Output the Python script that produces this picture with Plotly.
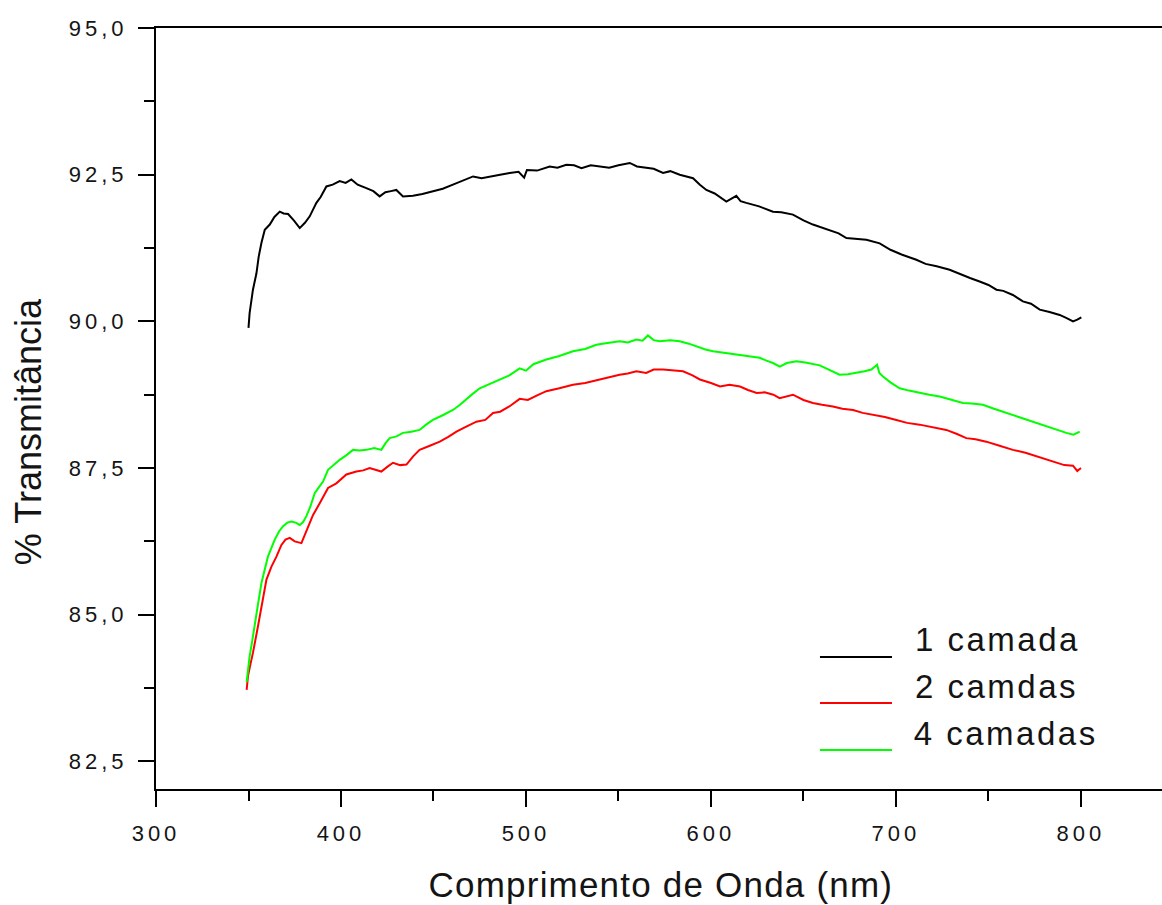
import plotly.graph_objects as go

# Wavelength (nm) and % transmittance for each film
wl_1 = [350.0, 350.6, 352.4, 354.3, 355.5, 357.0, 358.8, 361.5, 364.0, 366.9, 369.0, 371.4,
        374.5, 377.7, 380.5, 383.1, 386.7, 389.0, 392.1, 395.5, 399.3, 402.5, 405.6, 409.0,
        413.7, 417.5, 420.9, 424.0, 427.0, 429.9, 433.5, 438.9, 444.0, 449.7, 455.0, 460.5,
        466.0, 471.4, 476.0, 480.4, 486.0, 491.2, 496.0, 499.0, 500.5, 506.0, 512.8, 517.0,
        521.8, 526.0, 530.0, 535.0, 540.0, 545.0, 550.0, 556.1, 560.0, 565.1, 569.0, 574.1,
        578.0, 583.1, 587.0, 590.3, 594.0, 597.5, 602.0, 608.3, 613.7, 616.0, 619.1, 626.0,
        633.5, 638.0, 644.3, 650.0, 655.1, 660.0, 665.9, 669.0, 673.2, 678.0, 684.0, 691.2,
        697.0, 703.0, 711.0, 716.0, 722.0, 729.0, 735.0, 740.0, 745.2, 750.0, 754.3, 758.0,
        763.2, 768.6, 773.0, 777.7, 783.0, 788.5, 792.0, 795.7, 798.0, 800.2]
t_1 = [89.89, 90.14, 90.54, 90.82, 91.10, 91.34, 91.56, 91.65, 91.78, 91.87, 91.84, 91.83,
       91.72, 91.59, 91.68, 91.79, 92.02, 92.12, 92.30, 92.33, 92.39, 92.36, 92.42, 92.33,
       92.27, 92.22, 92.13, 92.20, 92.22, 92.24, 92.13, 92.14, 92.17, 92.22, 92.26, 92.33,
       92.40, 92.47, 92.44, 92.47, 92.50, 92.53, 92.55, 92.45, 92.58, 92.57, 92.64, 92.62,
       92.67, 92.66, 92.61, 92.66, 92.64, 92.62, 92.66, 92.70, 92.64, 92.61, 92.60, 92.53,
       92.56, 92.50, 92.47, 92.44, 92.33, 92.24, 92.18, 92.04, 92.14, 92.05, 92.02, 91.96,
       91.87, 91.86, 91.82, 91.72, 91.65, 91.60, 91.53, 91.50, 91.42, 91.41, 91.39, 91.33,
       91.22, 91.14, 91.05, 90.98, 90.94, 90.88, 90.80, 90.74, 90.68, 90.62, 90.54, 90.52,
       90.45, 90.34, 90.30, 90.20, 90.16, 90.11, 90.06, 90.00, 90.03, 90.07]

wl_2 = [349.0, 349.7, 351.0, 352.4, 355.1, 357.8, 359.7, 362.4, 365.1, 367.8, 370.0, 372.3,
        375.0, 378.6, 381.3, 384.9, 388.5, 393.0, 397.5, 402.9, 408.3, 412.0, 415.5, 418.5,
        421.8, 425.0, 428.1, 432.0, 435.4, 439.0, 442.5, 448.0, 453.4, 458.0, 462.4, 468.0,
        473.2, 478.0, 482.2, 486.0, 491.0, 496.6, 501.0, 506.0, 511.0, 518.0, 525.4, 532.0,
        539.8, 545.0, 550.6, 555.0, 559.7, 565.0, 569.0, 574.1, 580.0, 584.9, 590.0, 594.0,
        600.0, 604.9, 610.0, 615.7, 620.0, 624.7, 629.0, 633.7, 637.1, 644.3, 650.0, 655.1,
        660.0, 665.9, 671.0, 676.8, 682.0, 687.6, 694.0, 700.2, 706.0, 712.8, 720.0, 727.2,
        733.0, 738.0, 743.0, 748.8, 756.0, 763.2, 770.0, 775.9, 781.0, 786.7, 791.0, 795.7,
        798.0, 800.0]
t_2 = [83.72, 83.95, 84.15, 84.35, 84.80, 85.31, 85.60, 85.82, 85.99, 86.19, 86.28, 86.31,
       86.25, 86.22, 86.42, 86.70, 86.90, 87.16, 87.24, 87.39, 87.44, 87.46, 87.50, 87.47,
       87.44, 87.52, 87.59, 87.55, 87.56, 87.70, 87.81, 87.88, 87.95, 88.03, 88.12, 88.21,
       88.29, 88.32, 88.44, 88.46, 88.55, 88.68, 88.66, 88.74, 88.81, 88.86, 88.92, 88.95,
       89.01, 89.04, 89.09, 89.11, 89.15, 89.12, 89.18, 89.18, 89.16, 89.15, 89.08, 89.01,
       88.95, 88.89, 88.92, 88.89, 88.83, 88.78, 88.79, 88.75, 88.69, 88.75, 88.66, 88.61,
       88.58, 88.55, 88.51, 88.49, 88.44, 88.41, 88.37, 88.32, 88.27, 88.24, 88.20, 88.15,
       88.08, 88.01, 87.99, 87.95, 87.88, 87.81, 87.76, 87.70, 87.64, 87.59, 87.55, 87.54,
       87.45, 87.50]

wl_4 = [349.0, 349.3, 350.6, 352.0, 353.4, 355.0, 357.0, 358.8, 360.5, 362.5, 364.2, 366.5,
        368.7, 371.0, 373.2, 375.5, 377.7, 379.5, 381.3, 383.5, 385.8, 388.0, 390.3, 393.0,
        396.0, 399.3, 403.0, 406.5, 410.0, 413.7, 418.0, 421.8, 424.0, 426.3, 430.0, 433.5,
        438.0, 442.5, 446.0, 449.7, 455.0, 460.5, 464.0, 467.8, 471.0, 475.0, 480.0, 485.8,
        491.0, 496.6, 500.0, 504.0, 511.0, 518.0, 525.4, 532.0, 538.0, 544.0, 550.6, 555.0,
        559.7, 563.0, 565.9, 569.0, 572.3, 578.0, 583.1, 588.0, 592.1, 597.0, 601.1, 608.0,
        615.5, 621.0, 626.3, 630.0, 633.5, 637.2, 641.0, 646.2, 651.0, 658.8, 664.0, 669.5,
        674.0, 678.6, 683.0, 686.7, 689.8, 691.0, 693.0, 697.0, 702.0, 707.0, 712.8, 718.0,
        723.6, 730.0, 736.2, 741.0, 747.0, 753.0, 759.7, 765.0, 770.5, 776.0, 781.3, 787.0,
        792.1, 796.0, 799.3]
t_4 = [83.85, 83.95, 84.29, 84.55, 84.80, 85.15, 85.54, 85.80, 85.99, 86.15, 86.28, 86.42,
       86.51, 86.57, 86.59, 86.57, 86.53, 86.58, 86.68, 86.85, 87.07, 87.17, 87.27, 87.47,
       87.55, 87.64, 87.72, 87.81, 87.80, 87.81, 87.84, 87.81, 87.92, 88.01, 88.04, 88.10,
       88.12, 88.15, 88.24, 88.32, 88.40, 88.49, 88.57, 88.68, 88.76, 88.86, 88.93, 89.01,
       89.08, 89.20, 89.16, 89.27, 89.35, 89.41, 89.49, 89.53, 89.60, 89.63, 89.66, 89.64,
       89.69, 89.67, 89.76, 89.68, 89.66, 89.68, 89.66, 89.62, 89.57, 89.52, 89.49, 89.46,
       89.43, 89.40, 89.38, 89.33, 89.29, 89.23, 89.29, 89.32, 89.30, 89.25, 89.17, 89.09,
       89.10, 89.12, 89.15, 89.18, 89.26, 89.12, 89.06, 88.96, 88.86, 88.82, 88.78, 88.75,
       88.72, 88.66, 88.61, 88.60, 88.58, 88.51, 88.44, 88.38, 88.32, 88.27, 88.21, 88.16,
       88.10, 88.07, 88.12]

series_names = ["1 camada", "2 camdas", "4 camadas"]
series_colors = ["#000000", "#ff0000", "#00ff00"]
series_x = [wl_1, wl_2, wl_4]
series_y = [t_1, t_2, t_4]

FONT = "Liberation Sans, Arial, sans-serif"
INK = "#141414"

fig = go.Figure()
for name, color, xs, ys in zip(series_names, series_colors, series_x, series_y):
    fig.add_trace(go.Scatter(x=xs, y=ys, mode="lines", name=name,
                             line=dict(color=color, width=2), showlegend=False))

axis_common = dict(
    showline=True, linecolor="#000000", linewidth=2,
    ticks="outside", ticklen=16, tickwidth=2, tickcolor="#000000",
    showgrid=False, zeroline=False,
    tickfont=dict(family=FONT, size=22, color=INK),
)

fig.update_xaxes(range=[300, 843.8], tick0=300, dtick=100, mirror=True,
                 minor=dict(ticks="outside", ticklen=10, tickwidth=2,
                            tickcolor="#000000", dtick=50, tick0=300, showgrid=False),
                 ticklabelstandoff=8,
                 **axis_common)
fig.update_yaxes(range=[82.03, 95.0], tick0=82.5, dtick=2.5, tickformat=".1f",
                 minor=dict(ticks="outside", ticklen=10, tickwidth=2,
                            tickcolor="#000000", dtick=1.25, tick0=82.5, showgrid=False),
                 ticklabelstandoff=6,
                 **axis_common)

# Axis titles
fig.add_annotation(text="% Transmitância", xref="paper", yref="paper",
                   x=-0.1272, y=0.469, textangle=-90, showarrow=False,
                   xanchor="center", yanchor="middle",
                   font=dict(family=FONT, size=36, color=INK))
fig.add_annotation(text="Comprimento de Onda (nm)", xref="paper", yref="paper",
                   x=0.502, y=-0.126, showarrow=False,
                   xanchor="center", yanchor="middle",
                   font=dict(family=FONT, size=35, color=INK),
                   name="xtitle")

# Key: sample line with the label above-right of it
key_line_y = [0.1735, 0.1130, 0.0512]
key_text_y = [0.1958, 0.1353, 0.0730]
for name, color, ly, ty in zip(series_names, series_colors, key_line_y, key_text_y):
    fig.add_shape(type="line", xref="paper", yref="paper",
                  x0=0.660, x1=0.7316, y0=ly, y1=ly,
                  line=dict(color=color, width=2))
    fig.add_annotation(text=name, xref="paper", yref="paper",
                       x=0.7625, y=ty, showarrow=False,
                       xanchor="left", yanchor="middle",
                       font=dict(family=FONT, size=33, color=INK))

fig.update_layout(
    width=1162, height=905,
    margin=dict(l=156, r=0, t=28, b=116, autoexpand=False),
    paper_bgcolor="#ffffff", plot_bgcolor="#ffffff",
    separators=", ",
    showlegend=False,
)

# Wider letter spacing for the tick labels and the key labels
spacing_js = """
var gd = document.getElementById('{plot_id}');
function spaceText() {
  gd.querySelectorAll('.xtick text, .ytick text').forEach(function (t) {
    t.style.letterSpacing = '4px';
  });
  gd.querySelectorAll('.annotation-text').forEach(function (t) {
    var s = t.textContent;
    if (s.indexOf('cam') >= 0) { t.style.letterSpacing = '2.5px'; }
    else if (s.indexOf('Comprimento') >= 0) { t.style.letterSpacing = '1.2px'; }
  });
}
spaceText();
"""

fig.write_html("out.html", post_script=spacing_js)
